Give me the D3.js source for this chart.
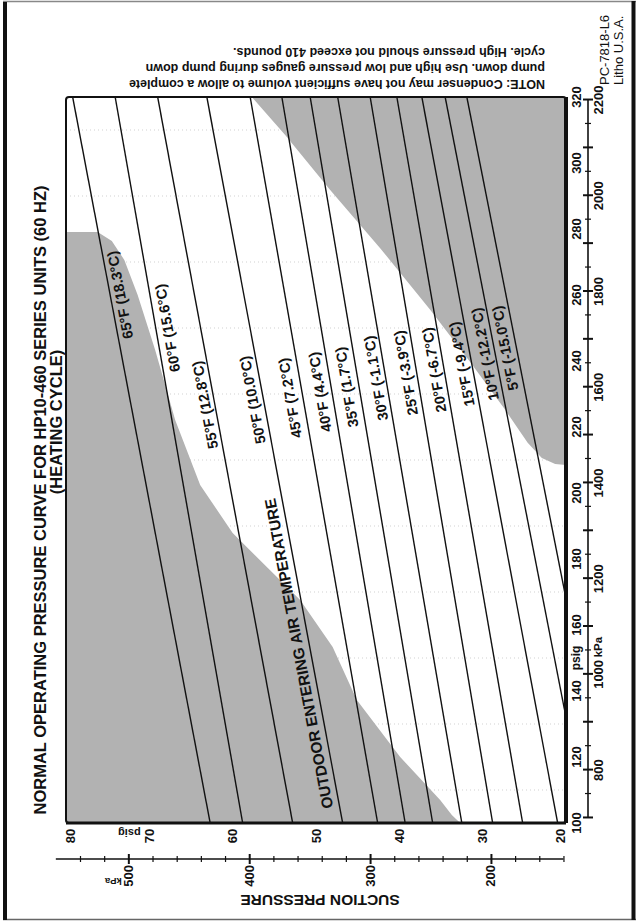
<!DOCTYPE html>
<html>
<head>
<meta charset="utf-8">
<title>Normal Operating Pressure Curve - HP10-460 Series (Heating Cycle)</title>
<script src="https://cdn.jsdelivr.net/npm/d3@7"></script>
<style>
  html, body { margin: 0; padding: 0; background: #fff; }
  svg { display: block; }
  text { font-family: "Liberation Sans", Arial, Helvetica, sans-serif; fill: #111; }
</style>
</head>
<body>
<svg id="chart" width="639" height="922"></svg>
<script>
// ---- Outdoor entering air temperature curves (suction vs discharge, psig) ----
const curveLabels = ["65°F (18.3°C)", "60°F (15.6°C)", "55°F (12.8°C)", "50°F (10.0°C)",
  "45°F (7.2°C)", "40°F (4.4°C)", "35°F (1.7°C)", "30°F (-1.1°C)", "25°F (-3.9°C)",
  "20°F (-6.7°C)", "15°F (-9.4°C)", "10°F (-12.2°C)", "5°F (-15.0°C)"];
// each curve is a straight run from its low end to its high end
const curveLowDischarge  = [100, 100, 100, 100, 100, 100, 100, 100, 100, 100, 100, 132, 168];
const curveLowSuction    = [62.7, 58.8, 52.8, 46.8, 42.6, 39.3, 36.0, 32.5, 28.8, 25.2, 21.0, 20, 20];
const curveHighDischarge = [320, 320, 320, 320, 320, 320, 320, 320, 320, 320, 320, 320, 320];
const curveHighSuction   = [79.2, 74.1, 69.0, 63.1, 57.9, 54.1, 50.7, 47.4, 43.5, 40.3, 37.3, 34.5, 31.9];
// label anchor of each curve (discharge psig, suction psig)
const labelDischarge = [260.0, 250.0, 226.7, 228.2, 228.8, 230.6, 232.1, 234.8, 236.4, 237.3, 239.1, 242.1, 243.9];
const labelSuction   = [73.5, 67.8, 63.3, 57.6, 53.1, 49.5, 46.3, 42.8, 39.2, 35.8, 32.5, 29.7, 27.3];

// ---- shaded zones outside the normal operating band ----
const lowZoneDischarge = [100, 279.1, 279.1, 276.4, 270.6, 260.0, 243.3, 222.1, 202.4, 187.9, 177.6, 167.6, 153.3, 137.3, 120.0, 107.0, 102.4, 100];
const lowZoneSuction   = [80, 80, 76.2, 74.5, 73.0, 71.4, 69.3, 66.9, 63.9, 60.0, 55.9, 51.9, 48.0, 45.1, 39.9, 35.1, 33.7, 32.7];
const highZoneDischarge = [320, 308.5, 291.8, 274.2, 255.5, 239.7, 225.2, 215.2, 210.6, 208.8, 208.5, 320];
const highZoneSuction   = [57.7, 53.7, 48.3, 42.3, 36.3, 31.5, 27.3, 24.6, 22.9, 21.3, 20, 20];

// ---- axes ----
const dischargePsigTicks = [100, 120, 140, 160, 180, 200, 220, 240, 260, 280, 300, 320];
const dischargeKpaLabels = [800, 1000, 1200, 1400, 1600, 1800, 2000, 2200];
const dischargeKpaTicks  = d3.range(700, 2201, 50);
const suctionPsigTicks   = [80, 70, 60, 50, 40, 30, 20];
const suctionKpaLabels   = [500, 400, 300, 200];
const suctionKpaTicks    = d3.range(140, 541, 20);
const dischargeGrid      = [110, 130, 150, 170, 190, 210, 230, 250, 270, 290, 310];

const titleText  = "NORMAL OPERATING PRESSURE CURVE FOR HP10-460 SERIES UNITS (60 HZ)";
const subtitle   = "(HEATING CYCLE)";
const bandLabel  = "OUTDOOR ENTERING AIR TEMPERATURE";
const yAxisTitle = "SUCTION PRESSURE";
const noteLines  = ["NOTE: Condenser may not have sufficient volume to allow a complete",
                    "pump down. Use high and low pressure gauges during pump down",
                    "cycle. High pressure should not exceed 410 pounds."];
const printCodes = ["PC-7818-L6", "Litho U.S.A."];

const PW = 639, PH = 922;
const GRAY = "#b2b2b2";
const INK = "#111";
const svg = d3.select("#chart");

// page frame (upright)
svg.append("line").attr("x1", 3).attr("x2", 636).attr("y1", 1.5).attr("y2", 1.5)
  .attr("stroke", "#888").attr("stroke-width", 1.5);
svg.append("line").attr("x1", 3).attr("x2", 636).attr("y1", 919.5).attr("y2", 919.5)
  .attr("stroke", "#666").attr("stroke-width", 1.5);
svg.append("line").attr("x1", 5).attr("x2", 5).attr("y1", 2).attr("y2", 920)
  .attr("stroke", INK).attr("stroke-width", 4);
svg.append("line").attr("x1", 633.5).attr("x2", 633.5).attr("y1", 1).attr("y2", 920)
  .attr("stroke", INK).attr("stroke-width", 4);

// the sheet is laid out in landscape and turned a quarter turn counter-clockwise
const g = svg.append("g").attr("transform", `translate(0,${PH}) rotate(-90)`);

const PSI_PER_KPA = 0.1450377;
const x  = d3.scaleLinear().domain([100, 320]).range([99, 825]);   // discharge psig
const y  = d3.scaleLinear().domain([20, 80]).range([566, 66]);     // suction psig
const xK = d3.scaleLinear().domain([100 / PSI_PER_KPA, 320 / PSI_PER_KPA]).range(x.range());
const yK = d3.scaleLinear().domain([20 / PSI_PER_KPA, 80 / PSI_PER_KPA]).range(y.range());

const [X0, X1] = x.range();
const [Y1, Y0] = y.range();

g.append("clipPath").attr("id", "plotClip")
  .append("rect").attr("x", X0).attr("y", Y0).attr("width", X1 - X0).attr("height", Y1 - Y0);
const plot = g.append("g").attr("clip-path", "url(#plotClip)");

// faint printed grid
plot.selectAll("line.grid").data(dischargeGrid).join("line")
  .attr("class", "grid")
  .attr("x1", d => x(d)).attr("x2", d => x(d)).attr("y1", Y0).attr("y2", Y1)
  .attr("stroke", "#9a9a9a").attr("stroke-width", 0.8).attr("stroke-dasharray", "1,3")
  .attr("opacity", 0.55);

// shaded zones
const zonePath = d3.line().x(d => x(d[0])).y(d => y(d[1]));
plot.append("path").attr("d", zonePath(d3.zip(lowZoneDischarge, lowZoneSuction)) + "Z")
  .attr("fill", GRAY);
plot.append("path").attr("d", zonePath(d3.zip(highZoneDischarge, highZoneSuction)) + "Z")
  .attr("fill", GRAY);

// temperature curves
const curves = curveLabels.map((label, i) => ({
  label,
  x1: x(curveLowDischarge[i]),  y1: y(curveLowSuction[i]),
  x2: x(curveHighDischarge[i]), y2: y(curveHighSuction[i]),
  lx: x(labelDischarge[i]), ly: y(labelSuction[i])
}));
curves.forEach(c => { c.angle = Math.atan2(c.y2 - c.y1, c.x2 - c.x1) * 180 / Math.PI; });

plot.selectAll("line.curve").data(curves).join("line")
  .attr("class", "curve")
  .attr("x1", d => d.x1).attr("y1", d => d.y1).attr("x2", d => d.x2).attr("y2", d => d.y2)
  .attr("stroke", INK).attr("stroke-width", 1.4);

g.selectAll("text.curveLabel").data(curves).join("text")
  .attr("class", "curveLabel")
  .attr("transform", d => `translate(${d.lx},${d.ly}) rotate(${d.angle})`)
  .attr("text-anchor", "middle").attr("dominant-baseline", "central")
  .attr("font-size", 14.5).attr("font-weight", "bold")
  .text(d => d.label);

// band caption running along the 50°F curve
{
  const c = curves[3];
  const t = (152 - curveLowDischarge[3]) / (curveHighDischarge[3] - curveLowDischarge[3]);
  const px = c.x1 + t * (c.x2 - c.x1), py = c.y1 + t * (c.y2 - c.y1);
  const a = c.angle * Math.PI / 180;
  const off = 12;
  g.append("text")
    .attr("transform", `translate(${px + off * Math.sin(a)},${py - off * Math.cos(a)}) rotate(${c.angle})`)
    .attr("text-anchor", "middle").attr("dominant-baseline", "central")
    .attr("font-size", 15.5).attr("font-weight", "bold")
    .text(bandLabel);
}

// plot border
g.append("rect").attr("x", X0).attr("y", Y0).attr("width", X1 - X0).attr("height", Y1 - Y0)
  .attr("rx", 3).attr("fill", "none").attr("stroke", INK).attr("stroke-width", 2);
g.append("line").attr("x1", X0).attr("x2", X1).attr("y1", Y1).attr("y2", Y1)
  .attr("stroke", INK).attr("stroke-width", 4);
g.append("line").attr("x1", X0).attr("x2", X0).attr("y1", Y0).attr("y2", Y1)
  .attr("stroke", INK).attr("stroke-width", 3);

// ---- discharge pressure scale (psig above the rule, kPa below) ----
const D_PSIG_Y = 576, D_RULE_Y = 588, D_KPA_Y = 598;
g.selectAll("text.dPsig").data(dischargePsigTicks).join("text")
  .attr("class", "dPsig")
  .attr("x", d => x(d)).attr("y", D_PSIG_Y)
  .attr("text-anchor", "middle").attr("dominant-baseline", "central")
  .attr("font-size", 13).attr("font-weight", "bold").text(d => d);
g.append("text").attr("x", x(150)).attr("y", D_PSIG_Y)
  .attr("text-anchor", "middle").attr("dominant-baseline", "central")
  .attr("font-size", 12).attr("font-weight", "bold").text("psig");

const dAxis = g.append("g").attr("transform", `translate(0,${D_RULE_Y})`)
  .call(d3.axisBottom(xK).tickValues(dischargeKpaTicks).tickSize(0).tickFormat(() => ""));
dAxis.select(".domain").remove();
dAxis.selectAll(".tick line")
  .attr("y1", d => d % 100 === 0 ? -5 : -3).attr("y2", d => d % 100 === 0 ? 5 : 3)
  .attr("stroke", INK).attr("stroke-width", d => d % 100 === 0 ? 2 : 1.2);
dAxis.append("line").attr("x1", xK(700)).attr("x2", xK(2200)).attr("stroke", INK).attr("stroke-width", 1.6);
g.selectAll("text.dKpa").data(dischargeKpaLabels).join("text")
  .attr("class", "dKpa")
  .attr("x", d => xK(d)).attr("y", D_KPA_Y)
  .attr("text-anchor", "middle").attr("dominant-baseline", "central")
  .attr("font-size", 13).attr("font-weight", "bold").text(d => d);
g.append("text").attr("x", xK(1057)).attr("y", D_KPA_Y)
  .attr("text-anchor", "middle").attr("dominant-baseline", "central")
  .attr("font-size", 11.5).attr("font-weight", "bold").text("kPa");

// ---- suction pressure scale (psig beside the plot, kPa outside the rule) ----
const S_PSIG_X = 86, S_RULE_X = 63, S_KPA_X = 57;
g.selectAll("text.sPsig").data(suctionPsigTicks).join("text")
  .attr("class", "sPsig")
  .attr("x", S_PSIG_X).attr("y", d => Math.max(Y0 + 4, Math.min(Y1 - 6, y(d))))
  .attr("text-anchor", "middle").attr("dominant-baseline", "central")
  .attr("font-size", 13).attr("font-weight", "bold").text(d => d);
g.append("text").attr("transform", `translate(${S_PSIG_X + 3},${y(72.4)}) rotate(-90)`)
  .attr("text-anchor", "middle").attr("dominant-baseline", "central")
  .attr("font-size", 11).attr("font-weight", "bold").text("psig");

const sAxis = g.append("g").attr("transform", `translate(${S_RULE_X},0)`)
  .call(d3.axisLeft(yK).tickValues(suctionKpaTicks).tickSize(0).tickFormat(() => ""));
sAxis.select(".domain").remove();
sAxis.selectAll(".tick line")
  .attr("x1", d => d % 100 === 0 ? -5 : -3).attr("x2", d => d % 100 === 0 ? 5 : 3)
  .attr("stroke", INK).attr("stroke-width", d => d % 100 === 0 ? 2 : 1.2);
sAxis.append("line").attr("y1", yK(140)).attr("y2", yK(560)).attr("stroke", INK).attr("stroke-width", 1.6);
g.selectAll("text.sKpa").data(suctionKpaLabels).join("text")
  .attr("class", "sKpa")
  .attr("x", S_KPA_X).attr("y", d => yK(d))
  .attr("text-anchor", "end").attr("dominant-baseline", "central")
  .attr("font-size", 13).attr("font-weight", "bold").text(d => d);
g.append("text").attr("transform", `translate(${S_KPA_X - 16},${yK(500) - 15}) rotate(-90)`)
  .attr("text-anchor", "middle").attr("dominant-baseline", "central")
  .attr("font-size", 9.5).attr("font-weight", "bold").text("kPa");

g.append("text").attr("transform", `translate(22,320) rotate(-90)`)
  .attr("text-anchor", "middle").attr("dominant-baseline", "central")
  .attr("font-size", 15.5).attr("font-weight", "bold").text(yAxisTitle);

// ---- headings ----
g.append("text").attr("x", 422).attr("y", 40)
  .attr("text-anchor", "middle").attr("dominant-baseline", "central")
  .attr("font-size", 16.5).attr("font-weight", "bold").text(titleText);
g.append("text").attr("x", 500).attr("y", 56)
  .attr("text-anchor", "middle").attr("dominant-baseline", "central")
  .attr("font-size", 16.5).attr("font-weight", "bold").text(subtitle);

// note printed up the right-hand margin
g.selectAll("text.note").data(noteLines).join("text")
  .attr("class", "note")
  .attr("transform", (d, i) => `translate(${838 + i * 16},545) rotate(-90)`)
  .attr("text-anchor", "start").attr("dominant-baseline", "central")
  .attr("font-size", 12.5).attr("font-weight", "bold")
  .text(d => d);

// print codes
g.selectAll("text.code").data(printCodes).join("text")
  .attr("class", "code")
  .attr("x", 837).attr("y", (d, i) => 604 + i * 14)
  .attr("dominant-baseline", "central")
  .attr("font-size", 13).text(d => d);
</script>
</body>
</html>
